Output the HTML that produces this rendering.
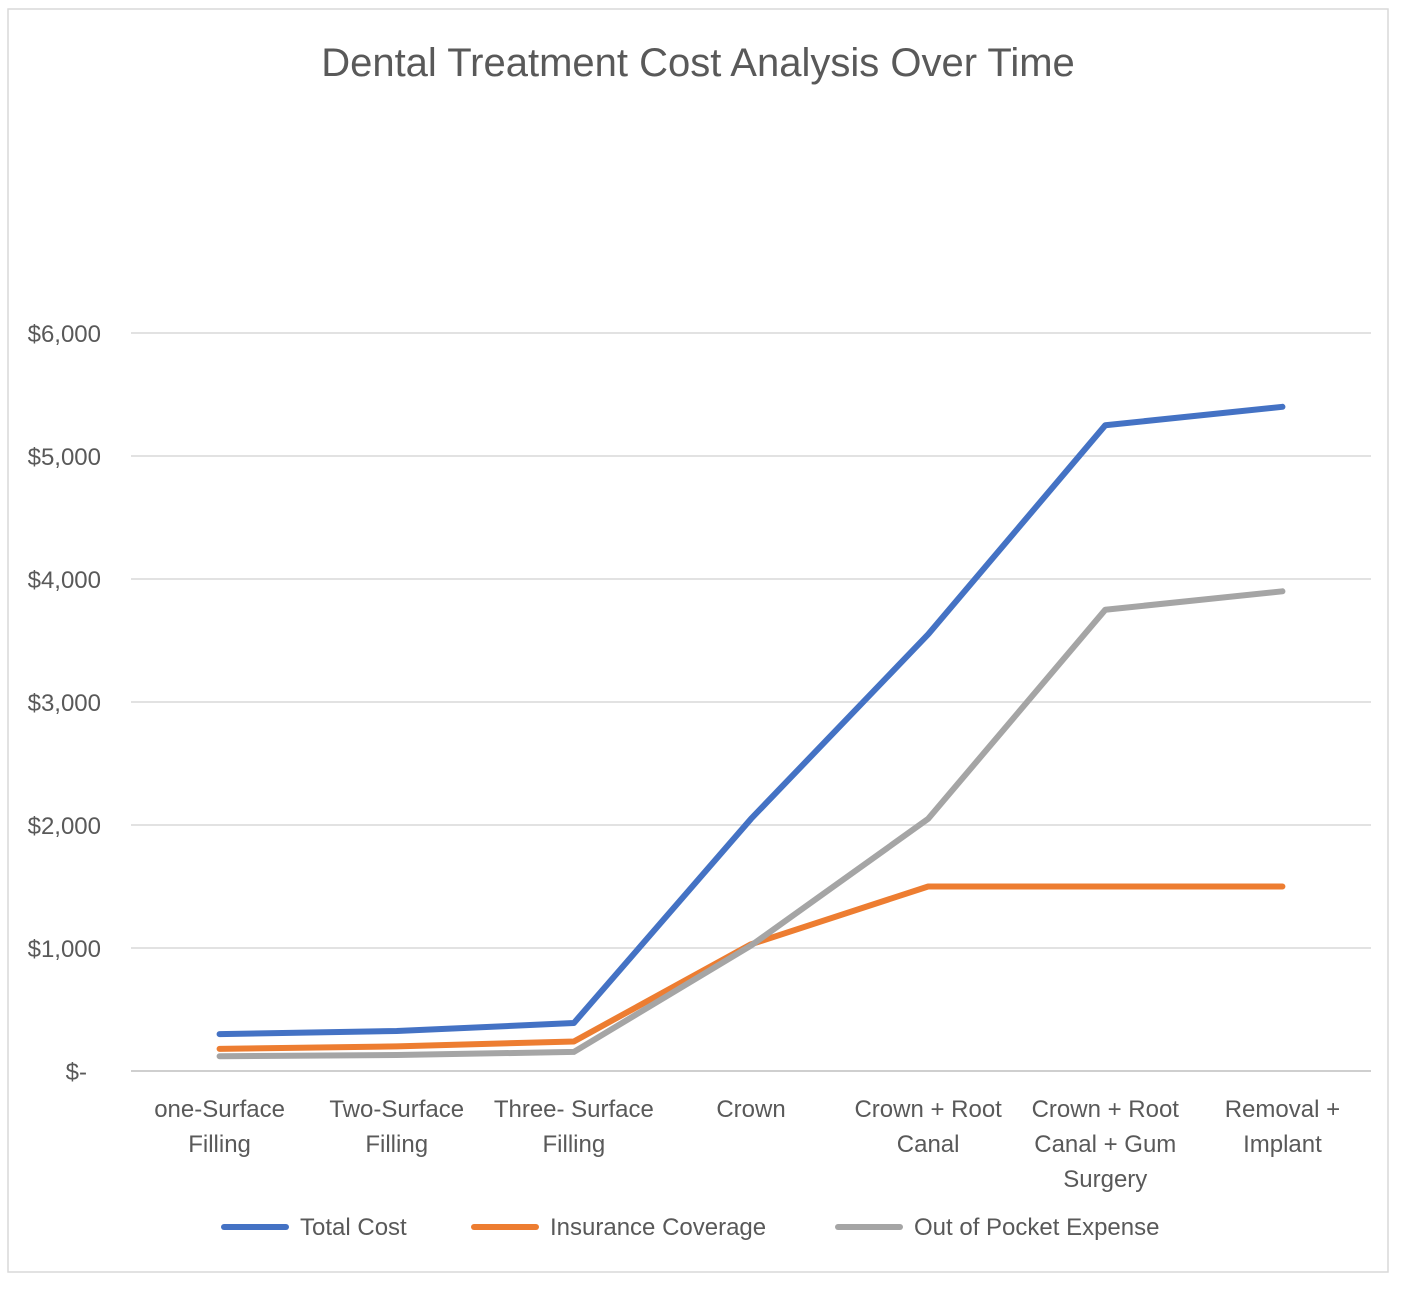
<!DOCTYPE html>
<html><head><meta charset="utf-8"><style>
body{margin:0;background:#fff;}
svg{display:block;font-family:"Liberation Sans",sans-serif;}
</style></head><body>
<svg width="1402" height="1298">
<rect x="8" y="9" width="1380" height="1263" fill="#fff" stroke="#d9d9d9" stroke-width="1.5"/>
<text x="698" y="76" text-anchor="middle" font-size="40" fill="#595959">Dental Treatment Cost Analysis Over Time</text>
<g id="grid"></g><g id="xlabels"></g><g id="lines"></g>
<g id="legend"></g>
</svg>
<script>
const categories=[["one-Surface","Filling"],["Two-Surface","Filling"],["Three- Surface","Filling"],["Crown"],["Crown + Root","Canal"],["Crown + Root","Canal + Gum","Surgery"],["Removal +","Implant"]];
const totalCost=[300,325,390,2050,3550,5250,5400];
const insurance=[180,200,240,1030,1500,1500,1500];
const outOfPocket=[120,130,155,1020,2050,3750,3900];
const yTicks=[0,1000,2000,3000,4000,5000,6000];
const yTickLabels=["$-","$1,000","$2,000","$3,000","$4,000","$5,000","$6,000"];
const seriesNames=["Total Cost","Insurance Coverage","Out of Pocket Expense"];
const colors=["#4472c4","#ed7d31","#a5a5a5"];
const NS="http://www.w3.org/2000/svg";
const x0=131,x1=1371,y0=1071,yTop=333,yMax=6000;
const step=(x1-x0)/categories.length;
const xs=i=>x0+step*(i+0.5);
const ys=v=>y0-(v/yMax)*(y0-yTop);
function mk(tag,attrs,parent){const e=document.createElementNS(NS,tag);for(const k in attrs)e.setAttribute(k,attrs[k]);parent.appendChild(e);return e;}
const grid=document.getElementById('grid');
yTicks.forEach((t,i)=>{
 const l=mk('line',{x1:x0,x2:x1,y1:ys(t),y2:ys(t),stroke:i==0?'#bfbfbf':'#d9d9d9','stroke-width':1.5},grid);
 
 
 const tx=mk('text',{x:i==0?87:101,y:ys(t)+9,'text-anchor':'end','font-size':24,fill:'#595959'},grid);
 tx.textContent=yTickLabels[i];
 
 
});
const xl=document.getElementById('xlabels');
categories.forEach((c,i)=>{
 c.forEach((s,j)=>{
  const t=mk('text',{x:xs(i),y:1117+j*35,'text-anchor':'middle','font-size':24,fill:'#595959'},xl);
  t.textContent=s;
  
  
 });
});
const lines=document.getElementById('lines');
[totalCost,insurance,outOfPocket].forEach((d,k)=>{
 const p=mk('polyline',{points:d.map((v,i)=>xs(i)+','+ys(v)).join(' '),fill:'none',stroke:colors[k],'stroke-width':6,'stroke-linejoin':'round','stroke-linecap':'round'},lines);
 
 
});
const lg=document.getElementById('legend');
const lx=[224,474,838];
seriesNames.forEach((n,k)=>{
 const l=mk('line',{x1:lx[k],x2:lx[k]+62,y1:1227,y2:1227,stroke:colors[k],'stroke-width':6,'stroke-linecap':'round'},lg);
 
 
 const t=mk('text',{x:lx[k]+76,y:1235,'font-size':24,fill:'#595959'},lg);
 t.textContent=n;
 
 
});
</script>
</body></html>
